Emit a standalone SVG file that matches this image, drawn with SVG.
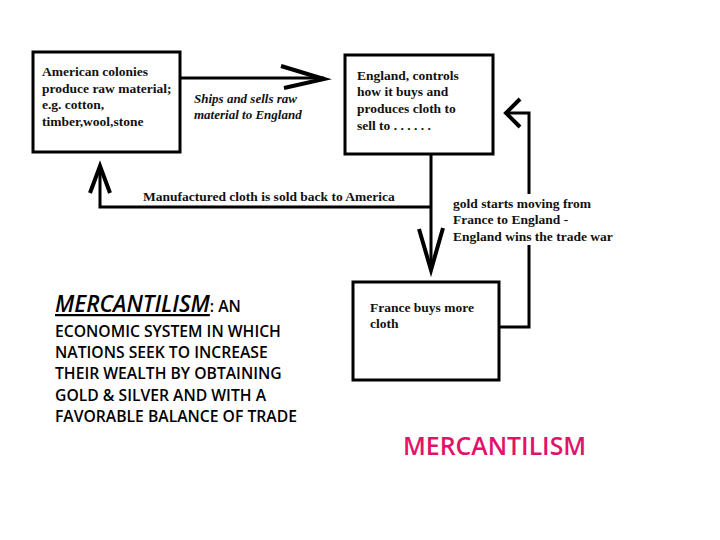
<svg xmlns="http://www.w3.org/2000/svg" width="720" height="540" viewBox="0 0 720 540">
<style>
.box{fill:#fff;stroke:#000;stroke-width:3}
.t{font-family:"Liberation Serif",serif;font-weight:bold;font-size:13.5px;fill:#111}
.ti{font-family:"Liberation Serif",serif;font-weight:bold;font-style:italic;font-size:13px;fill:#111}
.c{fill:none;stroke:#000;stroke-width:3;stroke-linejoin:miter}
.h{fill:none;stroke:#000;stroke-width:4;stroke-linejoin:miter}
.def{font-family:"Open Sans","Liberation Sans",sans-serif;font-weight:600;font-size:15.7px;fill:#000}
</style>
<rect width="720" height="540" fill="#fff"/>
<g id="connectors">
<path class="c" d="M181,78 H324"/>
<path class="h" d="M281,66 L324,79 L284,88"/>
<path class="c" d="M431,155 V270 M431,207 H100 V166"/>
<path class="h" d="M90,193 L100,166 L110,193 M419,229 L431,270 L443,228"/>
<path class="c" d="M499,327 H529 V245 M529,194 V113 H506"/>
<path class="h" d="M520,99 L506,113 L520,127"/>
</g>
<g id="american-colonies">
<rect class="box" x="33" y="52" width="147" height="100"/>
<text class="t" x="42" y="76">American colonies</text>
<text class="t" x="42" y="93">produce raw material;</text>
<text class="t" x="42" y="109">e.g. cotton,</text>
<text class="t" x="42" y="126">timber,wool,stone</text>
</g>
<g id="ships-label">
<text class="ti" x="194" y="103">Ships and sells raw</text>
<text class="ti" x="194" y="119">material to England</text>
</g>
<g id="england">
<rect class="box" x="345" y="55" width="148" height="99"/>
<text class="t" x="357" y="80">England, controls</text>
<text class="t" x="357" y="96">how it buys and</text>
<text class="t" x="357" y="113">produces cloth to</text>
<text class="t" x="357" y="130">sell to . . . . . .</text>
</g>
<g id="sold-back-label">
<text class="t" x="143" y="201">Manufactured cloth is sold back to America</text>
</g>
<g id="gold-label">
<text class="t" x="453" y="208">gold starts moving from</text>
<text class="t" x="453" y="224">France to England -</text>
<text class="t" x="453" y="241">England wins the trade war</text>
</g>
<g id="france">
<rect class="box" x="353" y="282" width="146" height="98"/>
<text class="t" x="370" y="312">France buys more</text>
<text class="t" x="370" y="328">cloth</text>
</g>
<g id="definition">
<text class="def" x="55" y="312"><tspan font-style="italic" font-size="22.5px" text-decoration="underline">MERCANTILISM</tspan>: AN</text>
<text class="def" x="55" y="337">ECONOMIC SYSTEM IN WHICH</text>
<text class="def" x="55" y="358">NATIONS SEEK TO INCREASE</text>
<text class="def" x="55" y="379">THEIR WEALTH BY OBTAINING</text>
<text class="def" x="55" y="401">GOLD &amp; SILVER AND WITH A</text>
<text class="def" x="55" y="422">FAVORABLE BALANCE OF TRADE</text>
</g>
<g id="title">
<text x="403" y="455" font-family="'Open Sans','Liberation Sans',sans-serif" font-size="24.8px" font-weight="600" fill="#e2116a">MERCANTILISM</text>
</g>
</svg>
